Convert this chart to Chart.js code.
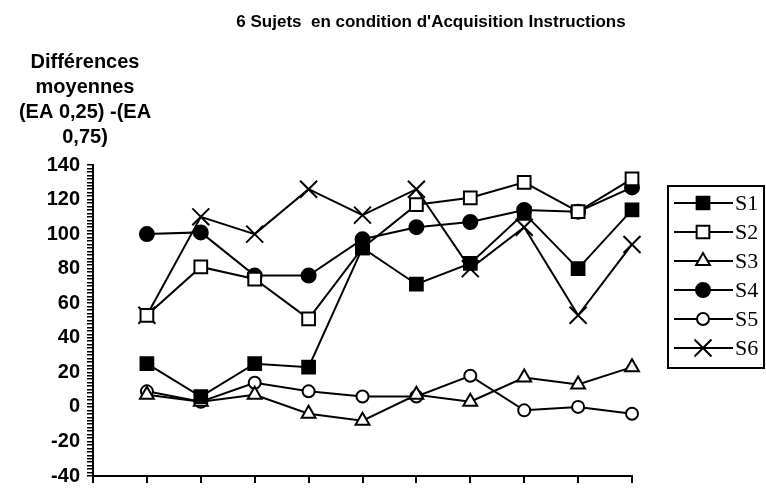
<!DOCTYPE html>
<html>
<head>
<meta charset="utf-8">
<script src="https://cdn.jsdelivr.net/npm/chart.js@4.4.0/dist/chart.umd.min.js"></script>
<style>
  html, body { margin: 0; padding: 0; background: #fff; }
  #wrap { width: 766px; height: 495px; }
</style>
</head>
<body>
<div id="wrap"><canvas id="chart" width="766" height="495"></canvas></div>
<script>
// 10 sessions, no x labels shown in the original
const sessions = [1, 2, 3, 4, 5, 6, 7, 8, 9, 10];
const seriesNames = ['S1', 'S2', 'S3', 'S4', 'S5', 'S6'];

const s1 = [25, 6, 25, 23, 92, 71, 83, 112, 80, 114];
const s2 = [53, 81, 74, 51, 92, 117, 121, 130, 113, 132];
const s3 = [7, 3, 7, -4, -8, 7, 3, 17, 13, 23];
const s4 = [100, 101, 76, 76, 97, 104, 107, 114, 113, 127];
const s5 = [9, 3, 14, 9, 6, 6, 18, -2, 0, -4];
const s6 = [53, 110, 100, 126, 111, 126, 80, 104, 53, 94];

const yMin = -40, yMax = 140, yMajor = 20, yMinor = 2;

const titleText = "6 Sujets  en condition d'Acquisition Instructions";
const yTitleLines = ['Différences', 'moyennes', '(EA 0,25) -(EA', '0,75)'];

const sansFamily = '"Liberation Sans", Arial, sans-serif';

const markers = [
  { style: 'rect', radius: 9, fill: '#000' },
  { style: 'rect', radius: 9, fill: '#fff' },
  { style: 'triangle', radius: 8, fill: '#fff' },
  { style: 'circle', radius: 7, fill: '#000' },
  { style: 'circle', radius: 6, fill: '#fff' },
  { style: 'crossRot', radius: 12, fill: '#fff' }
];

const allSeries = [s1, s2, s3, s4, s5, s6];

const datasets = allSeries.map((vals, i) => ({
  label: seriesNames[i],
  data: sessions.map((x, j) => ({ x: x, y: vals[j] })),
  borderColor: '#000',
  borderWidth: 2,
  pointStyle: markers[i].style,
  pointRadius: markers[i].radius,
  pointBackgroundColor: markers[i].fill,
  pointBorderColor: '#000',
  pointBorderWidth: 2,
  tension: 0,
  fill: false,
  clip: false
}));

// title, y-axis caption and the boxed legend, drawn at fixed spots like the original
const extras = {
  id: 'extras',
  afterDraw(chart) {
    const ctx = chart.ctx;
    ctx.save();
    ctx.fillStyle = '#000';
    ctx.textAlign = 'center';
    ctx.textBaseline = 'middle';
    ctx.font = 'bold 17px ' + sansFamily;
    ctx.fillText(titleText, 431, 22);

    ctx.font = 'bold 20px ' + sansFamily;
    yTitleLines.forEach((t, i) => ctx.fillText(t, 85, 62 + i * 25));

    // legend
    ctx.lineWidth = 2;
    ctx.strokeStyle = '#000';
    ctx.strokeRect(668, 186, 96, 182);
    ctx.font = '22px "Liberation Serif", "Times New Roman", serif';
    ctx.textAlign = 'left';
    seriesNames.forEach((name, i) => {
      const y = 203 + i * 29;
      ctx.beginPath();
      ctx.moveTo(674, y);
      ctx.lineTo(733, y);
      ctx.lineWidth = 2;
      ctx.stroke();
      ctx.fillStyle = markers[i].fill;
      ctx.strokeStyle = '#000';
      Chart.helpers.drawPoint(ctx, {
        pointStyle: markers[i].style,
        radius: markers[i].radius,
        rotation: 0,
        borderWidth: 2
      }, 703, y);
      ctx.fillStyle = '#000';
      ctx.fillText(name, 735, y + 1);
    });
    ctx.restore();
  }
};

new Chart(document.getElementById('chart'), {
  type: 'line',
  data: { datasets: datasets },
  options: {
    responsive: false,
    animation: false,
    layout: { padding: { top: 165, right: 134, bottom: 0, left: 0 } },
    plugins: {
      legend: { display: false },
      title: { display: false },
      tooltip: { enabled: false }
    },
    scales: {
      x: {
        type: 'linear',
        min: 0,
        max: 10,
        afterFit: (s) => { s.height = 12; },
        ticks: { display: false, stepSize: 1 },
        grid: { drawOnChartArea: false, tickLength: 7, color: '#000', lineWidth: 2 },
        border: { color: '#000', width: 2 }
      },
      y: {
        min: yMin,
        max: yMax,
        afterFit: (s) => { s.width = 93; },
        ticks: {
          stepSize: yMinor,
          autoSkip: false,
          padding: 7,
          color: '#000',
          font: { family: sansFamily, size: 20, weight: 'bold' },
          callback: (v) => (v % yMajor === 0 ? String(v) : '')
        },
        grid: { drawOnChartArea: false, tickLength: 6, color: '#000', lineWidth: 1.5 },
        border: { color: '#000', width: 2 }
      }
    }
  },
  plugins: [extras]
});
</script>
</body>
</html>
